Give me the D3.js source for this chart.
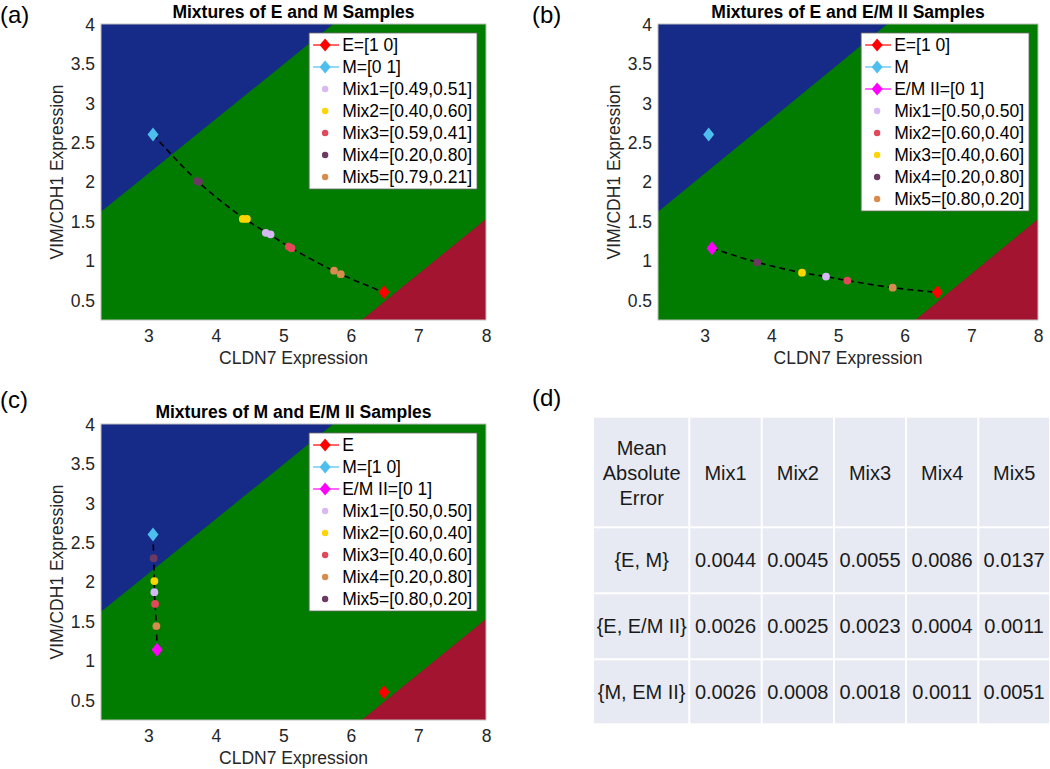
<!DOCTYPE html>
<html>
<head>
<meta charset="utf-8">
<script src="https://cdn.jsdelivr.net/npm/d3@7"></script>
<style>
  html, body { margin: 0; padding: 0; background: #fff; }
  svg { display: block; font-family: Helvetica, Arial, "Liberation Sans", sans-serif; }
</style>
</head>
<body>
<svg id="chart" width="1050" height="769"></svg>
<script>
// ---------------- DATA ----------------
const xDomain = [2.3, 8];
const yDomain = [0.25, 4];
const xTicks = [3, 4, 5, 6, 7, 8];
const yTicks = [0.5, 1, 1.5, 2, 2.5, 3, 3.5, 4];
const xTitle = "CLDN7 Expression";
const yTitle = "VIM/CDH1 Expression";

// decision-region boundary lines (data coords)
const blueBoundary = [[2.3, 1.62], [5.74, 4]];
const redBoundary = [[6.16, 0.25], [8, 1.53]];

// Panel (a)
const aTitle = "Mixtures of E and M Samples";
const aRefNames = ["E=[1 0]", "M=[0 1]"];
const aRefColors = ["#ff0000", "#4dbeee"];
const aRefPoints = [[6.49, 0.60], [3.07, 2.60]];
const aMixNames = ["Mix1=[0.49,0.51]", "Mix2=[0.40,0.60]", "Mix3=[0.59,0.41]", "Mix4=[0.20,0.80]", "Mix5=[0.79,0.21]"];
const aMixColors = ["#d6b8f4", "#ffd400", "#e2475a", "#6b3a62", "#d88b4e"];
const aMixPoints = [
  [[4.74, 1.355], [4.81, 1.335]],
  [[4.40, 1.53], [4.46, 1.53]],
  [[5.08, 1.18], [5.12, 1.16]],
  [[3.72, 2.01], [3.75, 2.00]],
  [[5.75, 0.875], [5.85, 0.83]]
];
const aCurve = [[3.07, 2.60], [3.74, 2.00], [4.43, 1.53], [4.78, 1.345], [5.10, 1.17], [5.80, 0.85], [6.49, 0.60]];

// Panel (b)
const bTitle = "Mixtures of E and E/M II Samples";
const bRefNames = ["E=[1 0]", "M", "E/M II=[0 1]"];
const bRefColors = ["#ff0000", "#4dbeee", "#ff00ff"];
const bRefPoints = [[6.49, 0.60], [3.06, 2.60], [3.11, 1.16]];
const bMixNames = ["Mix1=[0.50,0.50]", "Mix2=[0.60,0.40]", "Mix3=[0.40,0.60]", "Mix4=[0.20,0.80]", "Mix5=[0.80,0.20]"];
const bMixColors = ["#d6b8f4", "#e2475a", "#ffd400", "#6b3a62", "#d88b4e"];
const bMixPoints = [
  [[4.82, 0.80]],
  [[5.14, 0.75]],
  [[4.46, 0.85]],
  [[3.79, 0.98]],
  [[5.82, 0.66]]
];
const bCurve = [[3.11, 1.16], [3.79, 0.98], [4.46, 0.85], [4.82, 0.80], [5.14, 0.75], [5.82, 0.66], [6.49, 0.60]];

// Panel (c)
const cTitle = "Mixtures of M and E/M II Samples";
const cRefNames = ["E", "M=[1 0]", "E/M II=[0 1]"];
const cRefColors = ["#ff0000", "#4dbeee", "#ff00ff"];
const cRefPoints = [[6.49, 0.60], [3.07, 2.60], [3.13, 1.14]];
const cMixNames = ["Mix1=[0.50,0.50]", "Mix2=[0.60,0.40]", "Mix3=[0.40,0.60]", "Mix4=[0.20,0.80]", "Mix5=[0.80,0.20]"];
const cMixColors = ["#d6b8f4", "#ffd400", "#e2475a", "#d88b4e", "#6b3a62"];
const cMixPoints = [
  [[3.09, 1.87]],
  [[3.09, 2.01]],
  [[3.10, 1.72]],
  [[3.12, 1.44]],
  [[3.08, 2.30]]
];
const cCurve = [[3.07, 2.60], [3.08, 2.30], [3.09, 2.01], [3.09, 1.87], [3.10, 1.72], [3.12, 1.44], [3.13, 1.14]];

// Panel (d) table
const tableHeader = ["Mean\nAbsolute\nError", "Mix1", "Mix2", "Mix3", "Mix4", "Mix5"];
const tableRows = ["{E, M}", "{E, E/M II}", "{M, EM II}"];
const maeEM = ["0.0044", "0.0045", "0.0055", "0.0086", "0.0137"];
const maeEEM = ["0.0026", "0.0025", "0.0023", "0.0004", "0.0011"];
const maeMEM = ["0.0026", "0.0008", "0.0018", "0.0011", "0.0051"];

// ---------------- STYLE ----------------
const COL_BLUE = "#162a88";
const COL_GREEN = "#017c01";
const COL_RED = "#a2142f";
const FONT = 17.5;
const TEXT_COL = "#262626";

const svg = d3.select("#chart");

function diamondPath(cx, cy, w, h) {
  return `M${cx},${cy - h / 2}L${cx + w / 2},${cy}L${cx},${cy + h / 2}L${cx - w / 2},${cy}Z`;
}

function drawPanel(cfg) {
  const g = svg.append("g");
  const x = d3.scaleLinear().domain(xDomain).range([cfg.left, cfg.left + cfg.w]);
  const y = d3.scaleLinear().domain(yDomain).range([cfg.top + cfg.h, cfg.top]);
  const clipId = "clip" + cfg.id;
  svg.append("clipPath").attr("id", clipId).append("rect")
    .attr("x", cfg.left).attr("y", cfg.top).attr("width", cfg.w).attr("height", cfg.h);
  const plot = g.append("g").attr("clip-path", `url(#${clipId})`);

  // background green
  plot.append("rect").attr("x", cfg.left).attr("y", cfg.top).attr("width", cfg.w).attr("height", cfg.h).attr("fill", COL_GREEN);
  // blue region (upper-left of blue boundary)
  const bb = blueBoundary;
  const bluePoly = [[xDomain[0], yDomain[1]], bb[0], bb[1]];
  plot.append("path").attr("d", "M" + bluePoly.map(p => [x(p[0]), y(p[1])].join(",")).join("L") + "Z").attr("fill", COL_BLUE);
  // red region (lower-right)
  const rb = redBoundary;
  const redPoly = [rb[0], rb[1], [xDomain[1], yDomain[0]]];
  plot.append("path").attr("d", "M" + redPoly.map(p => [x(p[0]), y(p[1])].join(",")).join("L") + "Z").attr("fill", COL_RED);

  // axes frame
  g.append("rect").attr("x", cfg.left).attr("y", cfg.top).attr("width", cfg.w).attr("height", cfg.h)
    .attr("fill", "none").attr("stroke", "#c0c0c0").attr("stroke-width", 1);

  // dashed curve
  const line = d3.line().x(d => x(d[0])).y(d => y(d[1])).curve(d3.curveCatmullRom.alpha(0.5));
  plot.append("path").attr("d", line(cfg.curve)).attr("fill", "none")
    .attr("stroke", "#000").attr("stroke-width", 1.6).attr("stroke-dasharray", "6,4");

  // mixture points
  cfg.mixPoints.forEach((pts, i) => {
    pts.forEach(p => {
      plot.append("circle").attr("cx", x(p[0])).attr("cy", y(p[1])).attr("r", 3.9).attr("fill", cfg.mixColors[i]);
    });
  });
  // reference diamonds
  cfg.refPoints.forEach((p, i) => {
    plot.append("path").attr("d", diamondPath(x(p[0]), y(p[1]), 11, 14)).attr("fill", cfg.refColors[i]);
  });

  // ticks (labels only)
  const xAxis = d3.axisBottom(x).tickValues(xTicks).tickSize(0).tickPadding(0).tickFormat(d3.format("d"));
  const xg = g.append("g").attr("transform", `translate(0,${cfg.top + cfg.h})`).call(xAxis);
  xg.select(".domain").remove();
  xg.selectAll("text").attr("y", 16).attr("dy", "0.35em").attr("font-size", FONT).attr("fill", TEXT_COL)
    .attr("font-family", "Helvetica, Arial, 'Liberation Sans', sans-serif");
  const yAxis = d3.axisLeft(y).tickValues(yTicks).tickSize(0).tickPadding(0).tickFormat(d => d3.format("")(d));
  const yg = g.append("g").attr("transform", `translate(${cfg.left},0)`).call(yAxis);
  yg.select(".domain").remove();
  yg.selectAll("text").attr("x", -6).attr("dy", "0.35em").attr("font-size", FONT).attr("fill", TEXT_COL)
    .attr("font-family", "Helvetica, Arial, 'Liberation Sans', sans-serif");

  // axis titles
  g.append("text").attr("x", cfg.left + cfg.w / 2).attr("y", cfg.top + cfg.h + 38).attr("dy", "0.35em")
    .attr("text-anchor", "middle").attr("font-size", FONT).attr("fill", TEXT_COL).text(xTitle);
  g.append("text").attr("transform", `translate(${cfg.left - 44},${cfg.top + cfg.h / 2}) rotate(-90)`)
    .attr("dy", "0.35em").attr("text-anchor", "middle").attr("font-size", FONT).attr("fill", TEXT_COL).text(yTitle);

  // title
  g.append("text").attr("x", cfg.left + cfg.w / 2).attr("y", cfg.top - 12).attr("dy", "0.35em")
    .attr("text-anchor", "middle").attr("font-size", FONT).attr("font-weight", "bold").attr("fill", "#000").text(cfg.title);

  // panel label
  svg.append("text").attr("x", cfg.labelX).attr("y", cfg.labelY).attr("dy", "0.35em")
    .attr("font-size", 24).attr("fill", "#000").text(cfg.label);

  // legend
  const names = cfg.refNames.concat(cfg.mixNames);
  const lg = g.append("g");
  const rowH = 22;
  const tmp = lg.append("g");
  let maxW = 0;
  names.forEach(n => {
    const t = tmp.append("text").attr("font-size", FONT).text(n);
    maxW = Math.max(maxW, t.node().getComputedTextLength());
  });
  tmp.remove();
  const lw = 33 + maxW + 5;
  const lh = names.length * rowH + 2;
  const lx = cfg.left + cfg.w - 9 - lw;
  const ly = cfg.top + 9;
  lg.append("rect").attr("x", lx).attr("y", ly).attr("width", lw).attr("height", lh)
    .attr("fill", "#fff").attr("stroke", "#6a6a6a").attr("stroke-width", 0.8);
  names.forEach((n, i) => {
    const cy = ly + 12 + i * rowH;
    const mx = lx + 16;
    if (i < cfg.refNames.length) {
      lg.append("line").attr("x1", lx + 4).attr("x2", lx + 30).attr("y1", cy).attr("y2", cy)
        .attr("stroke", cfg.refColors[i]).attr("stroke-width", 1.2);
      lg.append("path").attr("d", diamondPath(mx, cy, 11, 13)).attr("fill", cfg.refColors[i]);
    } else {
      lg.append("circle").attr("cx", mx).attr("cy", cy).attr("r", 3.2).attr("fill", cfg.mixColors[i - cfg.refNames.length]);
    }
    lg.append("text").attr("x", lx + 33).attr("y", cy).attr("dy", "0.35em").attr("font-size", FONT)
      .attr("fill", "#000").text(n);
  });
}

drawPanel({ id: "a", left: 101, top: 24, w: 385, h: 296, title: aTitle, label: "(a)", labelX: 0, labelY: 15,
  refNames: aRefNames, refColors: aRefColors, refPoints: aRefPoints,
  mixNames: aMixNames, mixColors: aMixColors, mixPoints: aMixPoints, curve: aCurve });
drawPanel({ id: "b", left: 658, top: 24, w: 380, h: 296, title: bTitle, label: "(b)", labelX: 532, labelY: 15,
  refNames: bRefNames, refColors: bRefColors, refPoints: bRefPoints,
  mixNames: bMixNames, mixColors: bMixColors, mixPoints: bMixPoints, curve: bCurve });
drawPanel({ id: "c", left: 101, top: 424, w: 385, h: 296, title: cTitle, label: "(c)", labelX: 0, labelY: 400,
  refNames: cRefNames, refColors: cRefColors, refPoints: cRefPoints,
  mixNames: cMixNames, mixColors: cMixColors, mixPoints: cMixPoints, curve: cCurve });

// ---------------- TABLE (d) ----------------
svg.append("text").attr("x", 532).attr("y", 398).attr("dy", "0.35em").attr("font-size", 24).attr("fill", "#000").text("(d)");

const colEdges = [594, 689.3, 761.7, 834, 906, 978.3, 1050];
const rowEdges = [417.7, 527.3, 593.3, 659.3, 724.3];
const tg = svg.append("g");
const bodyRows = [maeEM, maeEEM, maeMEM];
const cells = [];
cells.push(tableHeader);
tableRows.forEach((r, i) => cells.push([r].concat(bodyRows[i])));

cells.forEach((row, ri) => {
  row.forEach((val, ci) => {
    const x0 = colEdges[ci], x1 = colEdges[ci + 1];
    const y0 = rowEdges[ri], y1 = rowEdges[ri + 1];
    tg.append("rect").attr("x", x0 + (ci === 0 ? 0 : 1)).attr("y", y0 + (ri === 0 ? 0 : 1))
      .attr("width", x1 - x0 - (ci === 0 ? 1 : 2)).attr("height", y1 - y0 - (ri === 0 ? 1 : 2))
      .attr("fill", "#e8eaf3");
    const lines = String(val).split("\n");
    const cx = (x0 + x1) / 2, cy = (y0 + y1) / 2;
    lines.forEach((ln, k) => {
      tg.append("text").attr("x", cx).attr("y", cy + (k - (lines.length - 1) / 2) * 25).attr("dy", "0.35em")
        .attr("text-anchor", "middle").attr("font-size", 20).attr("fill", "#1a1a1a").text(ln);
    });
  });
});
</script>
</body>
</html>
